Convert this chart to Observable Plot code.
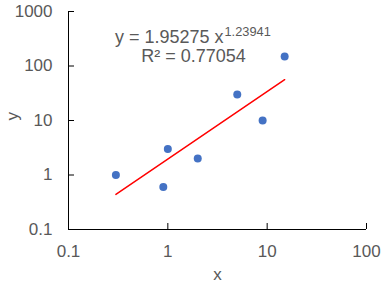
<!DOCTYPE html>
<html>
<head>
<meta charset="utf-8">
<script src="https://cdn.jsdelivr.net/npm/d3@7"></script>
<script src="https://cdn.jsdelivr.net/npm/@observablehq/plot@0.6"></script>
<style>
  html, body { margin: 0; padding: 0; background: #fff; }
  svg { display: block; }
</style>
</head>
<body>
<div id="chart"></div>
<script>
// Data
const xs = [0.3, 0.9, 1, 2, 5, 9, 15];
const ys = [1, 0.6, 3, 2, 30, 10, 150];
const fitX = [0.3, 15];
const fitY = [0.44, 56];
const xTicks = [0.1, 1, 10, 100];
const yTicks = [0.1, 1, 10, 100, 1000];
const eqMain = "y = 1.95275 x";
const eqExp = "1.23941";
const eqR2 = "R² = 0.77054";

const points = xs.map((x, i) => ({x, y: ys[i]}));
const fit = fitX.map((x, i) => ({x, y: fitY[i]}));

const font = "'Liberation Sans', Arial, sans-serif";
const gray = "#595959";

const chart = Plot.plot({
  width: 387,
  height: 282,
  marginLeft: 68,
  marginRight: 21,
  marginTop: 11,
  marginBottom: 53,
  style: {fontFamily: font, fontSize: "17px", color: gray, background: "#fff"},
  x: {type: "log", domain: [0.1, 100]},
  y: {type: "log", domain: [0.1, 1000]},
  marks: [
    // tick labels
    Plot.axisY(yTicks, {tickSize: 0, tickPadding: 16, tickFormat: d => String(d), fill: gray, fontSize: 17, label: null}),
    Plot.axisX(xTicks, {tickSize: 0, tickPadding: 15, tickFormat: d => String(d), fill: gray, fontSize: 17, label: null}),
    // inward ticks
    Plot.axisY(yTicks.filter(d => d > 0.1), {tickSize: -6, fill: "none", stroke: "black", label: null}),
    Plot.axisX(xTicks.filter(d => d > 0.1), {tickSize: -6, fill: "none", stroke: "black", label: null}),
    // axis lines
    Plot.ruleX([0.1], {stroke: "black"}),
    Plot.ruleY([0.1], {stroke: "black"}),
    // axis titles
    Plot.text(["x"], {frameAnchor: "bottom", dy: 50, lineAnchor: "bottom", fill: gray, fontSize: 17}),
    Plot.text(["y"], {frameAnchor: "left", dx: -56, rotate: -90, lineAnchor: "middle", fill: gray, fontSize: 17}),
    // trendline
    Plot.line(fit, {x: "x", y: "y", stroke: "#ff0000", strokeWidth: 1.5}),
    // points
    Plot.dot(points, {x: "x", y: "y", r: 4, fill: "#4472c4", stroke: "none"}),
    // equation
    Plot.text([eqMain], {frameAnchor: "top-left", dx: 155, dy: 26, textAnchor: "end", lineAnchor: "middle", fill: gray, fontSize: 18}),
    Plot.text([eqExp], {frameAnchor: "top-left", dx: 156, dy: 20.5, textAnchor: "start", lineAnchor: "middle", fill: gray, fontSize: 12.8}),
    Plot.text([eqR2], {frameAnchor: "top-left", dx: 125, dy: 44.5, textAnchor: "middle", lineAnchor: "middle", fill: gray, fontSize: 18})
  ]
});
document.getElementById("chart").appendChild(chart);
</script>
</body>
</html>
